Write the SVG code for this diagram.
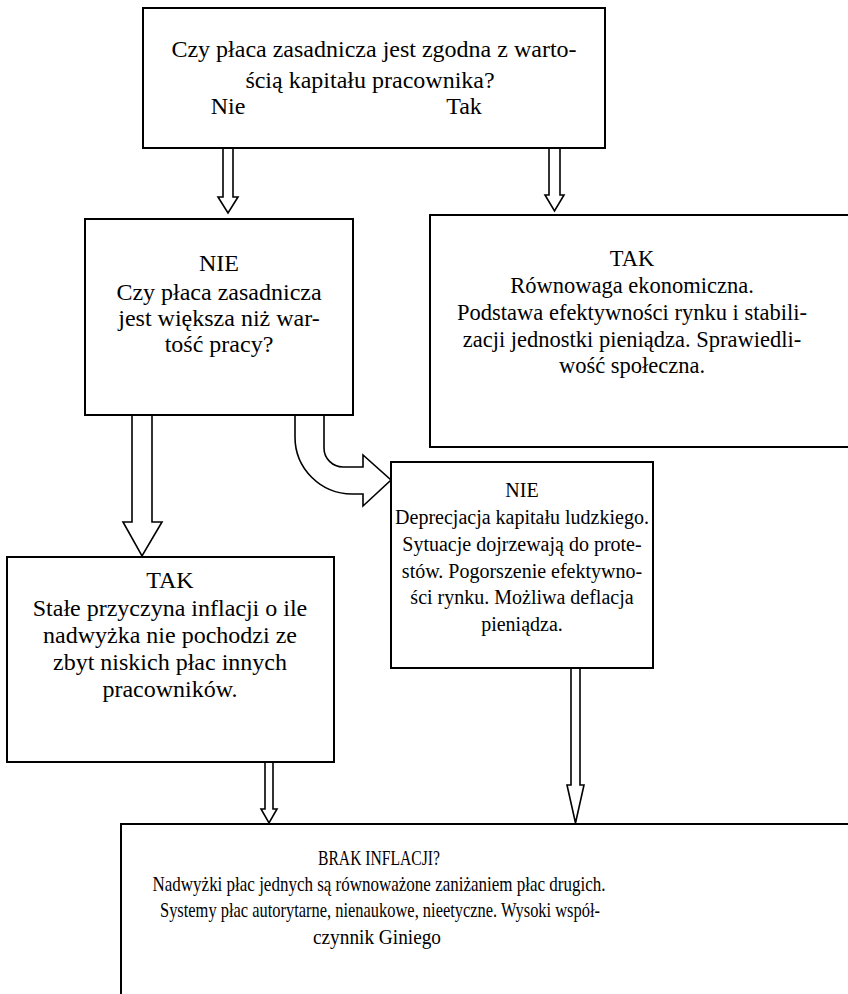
<svg xmlns="http://www.w3.org/2000/svg" width="848" height="994" viewBox="0 0 848 994">
<style>
.box{fill:#fff;stroke:#000;stroke-width:2}
.arr{fill:#fff;stroke:#000;stroke-width:1.6;stroke-linejoin:miter}
.tx{font-family:'Liberation Serif','Times New Roman',Times,serif;fill:#000;text-anchor:middle}
.t24{font-size:24px}
.t23{font-size:22.5px}
.t20{font-size:20px}
.t22{font-size:22px}
</style>
<rect width="848" height="994" fill="#fff"/>
<g id="connectors">
<polygon class="arr" points="223,148 233,148 233,197 238,197 228,213 218,197 223,197"/>
<polygon class="arr" points="549,147 560,147 560,195 564,195 554.5,211 545,195 549,195"/>
<polygon class="arr" points="132,415 152,415 152,522 162,522 142,556 123,522 132,522"/>
<path class="arr" d="M295,415 L324,415 L324,448 A19,19 0 0 0 343,467 L363,467 L363,455 L391,480 L363,506 L363,494 L352,494 A57,57 0 0 1 295,437 Z"/>
<polygon class="arr" points="265,761 273,761 273,809 277,809 269,823 261,809 265,809"/>
<polygon class="arr" points="571,667 580,667 580,785 584,785 575.5,823 567,785 571,785"/>
</g>
<g id="node-top" class="tx">
<rect class="box" x="143" y="8" width="462" height="140"/>
<text class="t24" x="374" y="57">Czy płaca zasadnicza jest zgodna z warto-</text>
<text class="t24" x="370" y="88">ścią kapitału pracownika?</text>
<text class="t24" x="228" y="114">Nie</text>
<text class="t24" x="464" y="114">Tak</text>
</g>
<g id="node-nie1" class="tx">
<rect class="box" x="85" y="219" width="268" height="196"/>
<text class="t24" x="219" y="271">NIE</text>
<text class="t24" x="219" y="300">Czy płaca zasadnicza</text>
<text class="t24" x="219" y="326">jest większa niż war-</text>
<text class="t24" x="219" y="352">tość pracy?</text>
</g>
<g id="node-tak1" class="tx">
<rect class="box" x="430" y="215" width="430" height="232"/>
<text class="t23" x="632" y="266">TAK</text>
<text class="t23" x="632" y="293">Równowaga ekonomiczna.</text>
<text class="t23" x="632" y="320">Podstawa efektywności rynku i stabili-</text>
<text class="t23" x="632" y="347">zacji jednostki pieniądza. Sprawiedli-</text>
<text class="t23" x="632" y="373">wość społeczna.</text>
</g>
<g id="node-nie2" class="tx">
<rect class="box" x="391" y="462" width="262" height="206"/>
<text class="t20" x="522" y="497">NIE</text>
<text class="t20" x="522" y="524">Deprecjacja kapitału ludzkiego.</text>
<text class="t20" x="522" y="551">Sytuacje dojrzewają do prote-</text>
<text class="t20" x="522" y="578">stów. Pogorszenie efektywno-</text>
<text class="t20" x="522" y="604">ści rynku. Możliwa deflacja</text>
<text class="t20" x="522" y="631">pieniądza.</text>
</g>
<g id="node-tak2" class="tx">
<rect class="box" x="7" y="557" width="327" height="205"/>
<text class="t24" x="170" y="588">TAK</text>
<text class="t24" x="170" y="616">Stałe przyczyna inflacji o ile</text>
<text class="t24" x="170" y="643">nadwyżka nie pochodzi ze</text>
<text class="t24" x="170" y="670">zbyt niskich płac innych</text>
<text class="t24" x="170" y="697">pracowników.</text>
</g>
<g id="node-brak" class="tx">
<rect class="box" x="121" y="824" width="740" height="190"/>
<text class="t22" x="379" y="865" textLength="122" lengthAdjust="spacingAndGlyphs">BRAK INFLACJI?</text>
<text class="t22" x="379" y="891" textLength="453" lengthAdjust="spacingAndGlyphs">Nadwyżki płac jednych są równoważone zaniżaniem płac drugich.</text>
<text class="t22" x="380" y="917" textLength="440" lengthAdjust="spacingAndGlyphs">Systemy płac autorytarne, nienaukowe, nieetyczne. Wysoki współ-</text>
<text class="t22" x="377" y="944" textLength="128" lengthAdjust="spacingAndGlyphs">czynnik Giniego</text>
</g>
</svg>
